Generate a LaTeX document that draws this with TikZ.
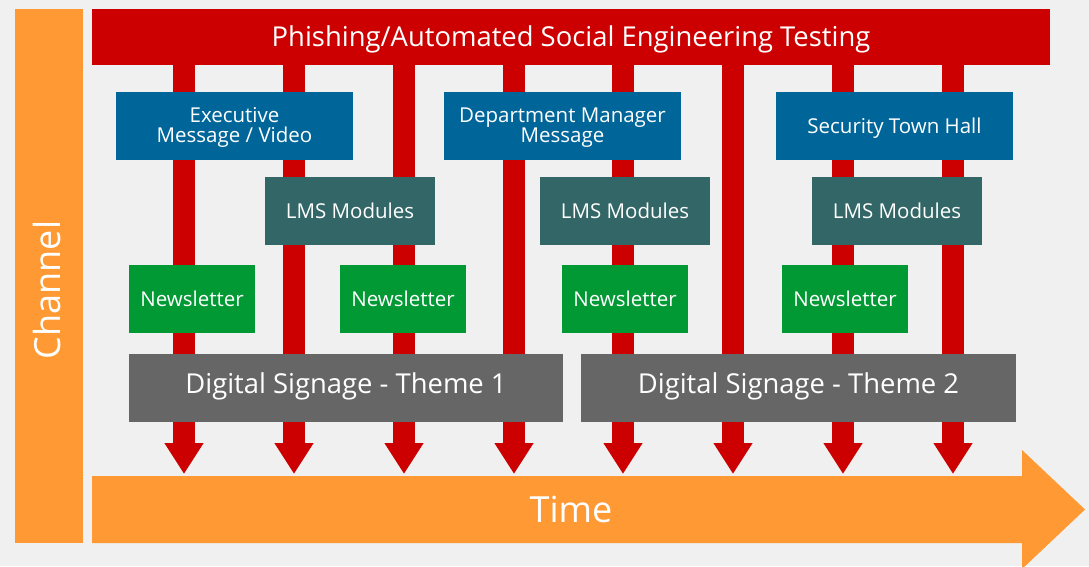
\documentclass[tikz,border=0pt]{standalone}
\usepackage{fontspec}
\setmainfont{Open Sans}
\usetikzlibrary{arrows.meta}
\definecolor{bgc}{HTML}{F0F0F0}
\definecolor{redc}{HTML}{CC0000}
\definecolor{orangec}{HTML}{FF9933}
\definecolor{bluec}{HTML}{006699}
\definecolor{tealc}{HTML}{336666}
\definecolor{greenc}{HTML}{009933}
\definecolor{grayc}{HTML}{666666}
\tikzset{
  boxbase/.style={inner sep=0pt, text=white, align=center, minimum height=68pt},
  smalltxt/.style={font=\fontsize{20.5}{20}\selectfont, text height=14.6pt, text depth=0pt},
  bigtxt/.style={font=\fontsize{27.4}{27}\selectfont, text height=19.6pt, text depth=0pt},
  bluebox/.style={boxbase, smalltxt, fill=bluec, minimum width=237pt},
  twoline/.style={text height=33.6pt, text depth=0pt},
  lmsbox/.style={boxbase, smalltxt, fill=tealc, minimum width=170pt},
  newsbox/.style={boxbase, smalltxt, fill=greenc, minimum width=126pt},
  signbox/.style={boxbase, bigtxt, fill=grayc, text depth=8pt},
  stem/.style={draw=redc, line width=22pt, -{Triangle[width=37pt,length=31pt,fill=redc]}},
}
\begin{document}
\begin{tikzpicture}[x=1pt,y=-1pt]
\useasboundingbox (0,0) rectangle (1089,566);
\fill[bgc] (0,0) rectangle (1089,566);
% channel bar
\node[boxbase, fill=orangec, minimum width=68pt, minimum height=534pt] (chanbar) at (49,276) {};
\node[text=white, rotate=90, inner sep=0pt, font=\fontsize{36}{36}\selectfont, text height=25.7pt, text depth=0pt] (chan) at (47.5,290) {Channel};
% time arrow
\fill[orangec] (92,476) -- (1022,476) -- (1022,450) -- (1085,509.5) -- (1022,569) -- (1022,543) -- (92,543) -- cycle;
\node[text=white, inner sep=0pt, font=\fontsize{36}{36}\selectfont, text height=25.7pt, text depth=0pt] (time) at (571,510) {Time};
% title bar
\node[boxbase, bigtxt, fill=redc, minimum width=958pt, minimum height=56pt] (title) at (571,37) {Phishing/Automated Social Engineering Testing};
% stems
\foreach \i/\x in {1/184,2/294,3/404,4/514,5/623,6/733,7/843,8/953}{
  \coordinate (s\i) at (\x,64);
  \coordinate (e\i) at (\x,474);
  \draw[stem] (s\i) -- (e\i);
}
% boxes
\node[bluebox, twoline] (exec) at (234.5,126) {Executive\\Message / Video};
\node[bluebox, twoline] (dept) at (562.5,126) {Department Manager\\Message};
\node[bluebox] (sth) at (894.5,126) {Security Town Hall};
\node[lmsbox] (lms1) at (350,211) {LMS Modules};
\node[lmsbox] (lms2) at (625,211) {LMS Modules};
\node[lmsbox] (lms3) at (897,211) {LMS Modules};
\node[newsbox] (news1) at (192,299) {Newsletter};
\node[newsbox] (news2) at (403,299) {Newsletter};
\node[newsbox] (news3) at (625,299) {Newsletter};
\node[newsbox] (news4) at (845,299) {Newsletter};
\node[signbox, minimum width=434pt] (ds1) at (346,388) {Digital Signage - Theme 1};
\node[signbox, minimum width=435pt] (ds2) at (798.5,388) {Digital Signage - Theme 2};
\end{tikzpicture}
\end{document}
